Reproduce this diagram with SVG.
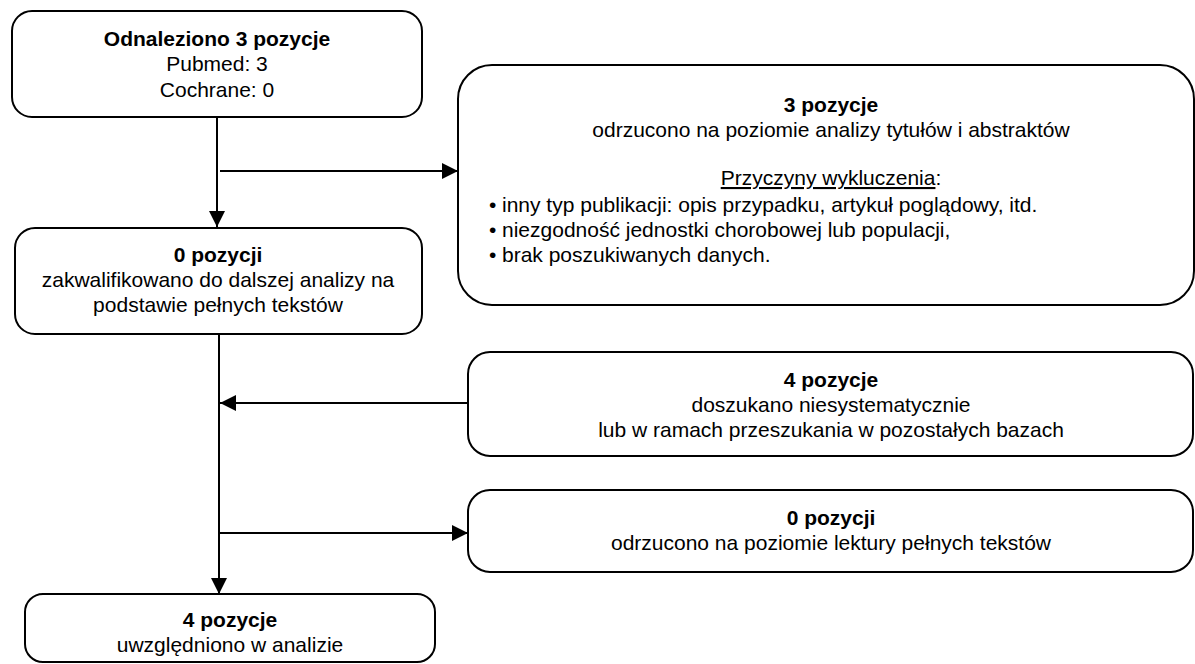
<svg xmlns="http://www.w3.org/2000/svg" width="1195" height="664" viewBox="0 0 1195 664">
<style>
.box{fill:#fff;stroke:#000;stroke-width:2}
.t{font-family:"Liberation Sans",Arial,sans-serif;font-size:21px;fill:#000;text-anchor:middle}
.b{font-weight:bold}
.l{text-anchor:start}
.conn line{stroke:#000;stroke-width:2}
.u{text-decoration:underline}
</style>
<defs>
<marker id="ah" viewBox="0 0 16 16" refX="16" refY="8" markerWidth="16" markerHeight="16" markerUnits="userSpaceOnUse" orient="auto">
<path d="M0,0 L16,8 L0,16 Z" fill="#000"/>
</marker>
</defs>
<rect width="1195" height="664" fill="#fff"/>
<g id="connectors" class="conn">
<line x1="217" y1="117" x2="217" y2="227" marker-end="url(#ah)"/>
<line x1="220" y1="171" x2="458" y2="171" marker-end="url(#ah)"/>
<line x1="219" y1="334" x2="219" y2="594" marker-end="url(#ah)"/>
<line x1="468" y1="403" x2="220" y2="403" marker-end="url(#ah)"/>
<line x1="219" y1="533" x2="468" y2="533" marker-end="url(#ah)"/>
</g>
<g id="n1">
<rect class="box" x="12" y="11" width="410" height="106" rx="20"/>
<text class="t b" x="217" y="46">Odnaleziono 3 pozycje</text>
<text class="t" x="217" y="71">Pubmed: 3</text>
<text class="t" x="217" y="97">Cochrane: 0</text>
</g>
<g id="n2">
<rect class="box" x="458" y="65" width="736" height="240" rx="34"/>
<text class="t b" x="831" y="112">3 pozycje</text>
<text class="t" x="831" y="137">odrzucono na poziomie analizy tytułów i abstraktów</text>
<text class="t" x="831" y="185"><tspan class="u">Przyczyny wykluczenia</tspan>:</text>
<text class="t l" x="489" y="212">•</text>
<text class="t l" x="502" y="212">inny typ publikacji: opis przypadku, artykuł poglądowy, itd.</text>
<text class="t l" x="489" y="237">•</text>
<text class="t l" x="502" y="237">niezgodność jednostki chorobowej lub populacji,</text>
<text class="t l" x="489" y="262">•</text>
<text class="t l" x="502" y="262">brak poszukiwanych danych.</text>
</g>
<g id="n3">
<rect class="box" x="15" y="228" width="407" height="106" rx="20"/>
<text class="t b" x="218" y="262">0 pozycji</text>
<text class="t" x="218" y="287">zakwalifikowano do dalszej analizy na</text>
<text class="t" x="218" y="312">podstawie pełnych tekstów</text>
</g>
<g id="n4">
<rect class="box" x="468" y="352" width="725" height="104" rx="22"/>
<text class="t b" x="831" y="387">4 pozycje</text>
<text class="t" x="831" y="412">doszukano niesystematycznie</text>
<text class="t" x="831" y="437">lub w ramach przeszukania w pozostałych bazach</text>
</g>
<g id="n5">
<rect class="box" x="468" y="490" width="725" height="82" rx="22"/>
<text class="t b" x="831" y="525">0 pozycji</text>
<text class="t" x="831" y="550">odrzucono na poziomie lektury pełnych tekstów</text>
</g>
<g id="n6">
<rect class="box" x="25" y="594" width="410" height="68" rx="18"/>
<text class="t b" x="230" y="627">4 pozycje</text>
<text class="t" x="230" y="652">uwzględniono w analizie</text>
</g>
</svg>
